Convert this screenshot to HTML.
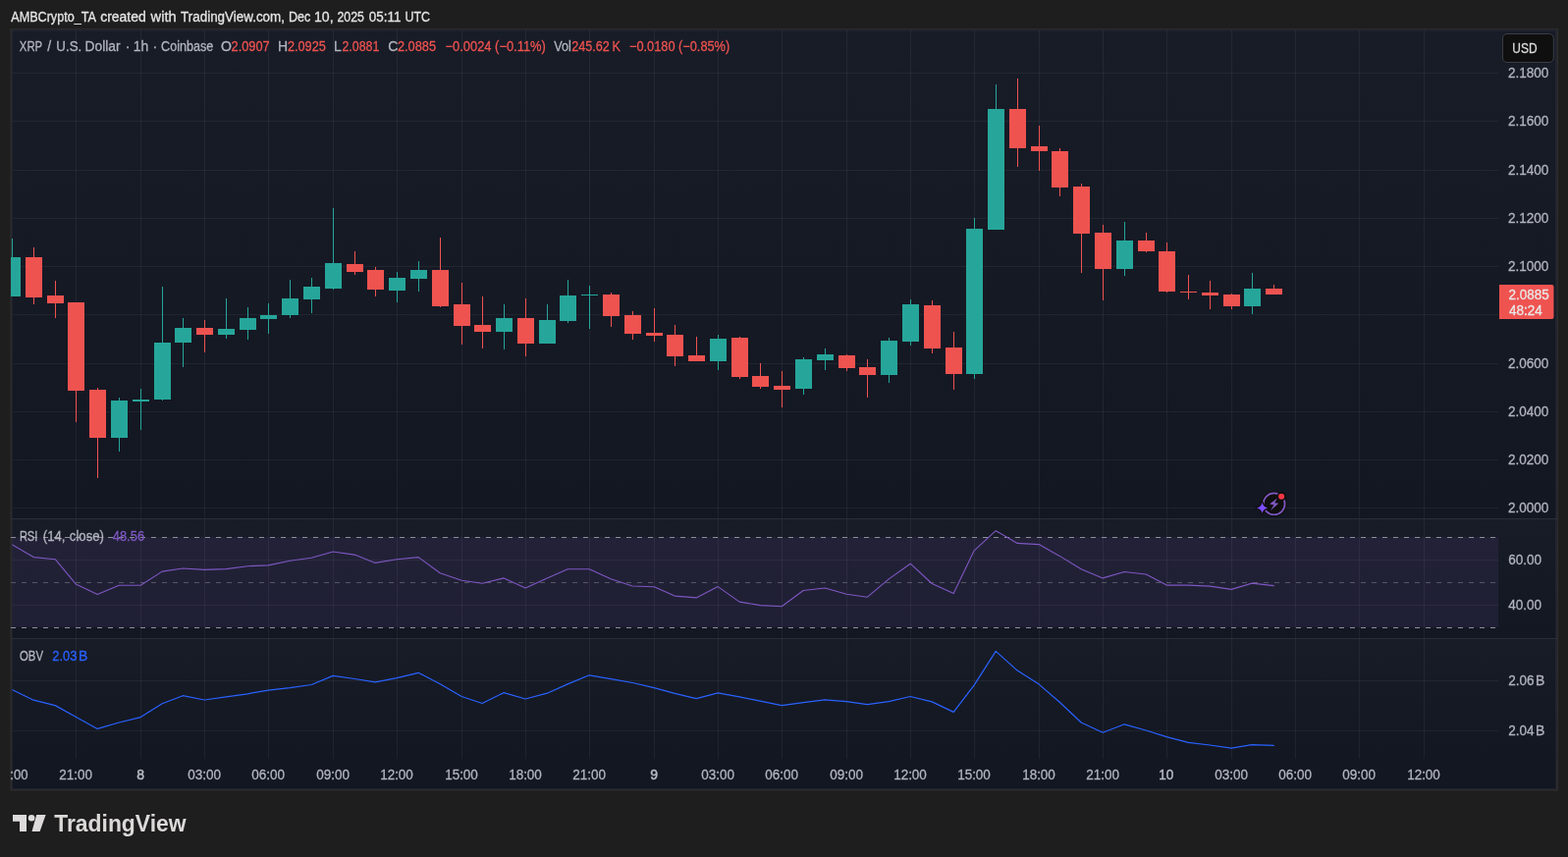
<!DOCTYPE html>
<html lang="en"><head><meta charset="utf-8"><title>XRP / U.S. Dollar · 1h · Coinbase — TradingView</title>
<style>
html,body{margin:0;padding:0;background:#1e1e1e;width:1597px;height:873px;overflow:hidden}
svg text{white-space:pre}
</style></head><body>
<svg width="1597" height="873" viewBox="0 0 1597 873" style="position:absolute;left:0;top:0;display:block">
<defs><linearGradient id="bg" x1="0" y1="0" x2="0" y2="1"><stop offset="0" stop-color="#181c27"/><stop offset="1" stop-color="#131722"/></linearGradient>
<clipPath id="pane"><rect x="12.5" y="31" width="1513.5" height="773"/></clipPath><clipPath id="cpane"><rect x="11" y="31" width="1515" height="773"/></clipPath></defs>
<rect width="1597" height="873" fill="#1e1e1e"/>
<rect x="10.4" y="29" width="1576.6" height="776.8" fill="#2b2b2d"/>
<rect x="12.2" y="30.6" width="1572.9" height="773.4" fill="#131722"/>
<rect x="12.2" y="30.6" width="1572.9" height="497.4" fill="url(#bg)"/>
<rect x="12.2" y="529" width="1572.9" height="121" fill="url(#bg)"/>
<rect x="12.2" y="651" width="1572.9" height="122" fill="url(#bg)"/>
<rect x="12.7" y="31.1" width="1571.9" height="772.4" fill="none" stroke="#f0f3fa" stroke-opacity="0.05" stroke-width="1"/>
<path d="M77 31h1v742h-1zM143 31h1v742h-1zM208 31h1v742h-1zM273 31h1v742h-1zM339 31h1v742h-1zM404 31h1v742h-1zM470 31h1v742h-1zM535 31h1v742h-1zM600 31h1v742h-1zM666 31h1v742h-1zM731 31h1v742h-1zM796 31h1v742h-1zM862 31h1v742h-1zM927 31h1v742h-1zM992 31h1v742h-1zM1058 31h1v742h-1zM1123 31h1v742h-1zM1188 31h1v742h-1zM1254 31h1v742h-1zM1319 31h1v742h-1zM1384 31h1v742h-1zM1450 31h1v742h-1z" fill="#f0f3fa" fill-opacity="0.06" shape-rendering="crispEdges"/>
<path d="M12.5 74h1513.5v1h-1513.5zM12.5 123h1513.5v1h-1513.5zM12.5 173h1513.5v1h-1513.5zM12.5 222h1513.5v1h-1513.5zM12.5 271h1513.5v1h-1513.5zM12.5 320h1513.5v1h-1513.5zM12.5 370h1513.5v1h-1513.5zM12.5 419h1513.5v1h-1513.5zM12.5 468h1513.5v1h-1513.5zM12.5 517h1513.5v1h-1513.5zM12.5 570h1513.5v1h-1513.5zM12.5 616h1513.5v1h-1513.5zM12.5 693h1513.5v1h-1513.5zM12.5 744h1513.5v1h-1513.5z" fill="#f0f3fa" fill-opacity="0.06" shape-rendering="crispEdges"/>
<path d="M11 528h1575v1h-1575zM11 650h1575v1h-1575z" fill="#2a2e39" shape-rendering="crispEdges"/>
<rect x="12.5" y="547" width="1513.5" height="92" fill="#7e57c2" fill-opacity="0.115"/>
<line x1="11" x2="1526" y1="547.5" y2="547.5" stroke="#8d909a" stroke-width="1" stroke-dasharray="5 6" shape-rendering="crispEdges" clip-path="url(#cpane)"/>
<line x1="11" x2="1526" y1="593.5" y2="593.5" stroke="#555864" stroke-width="1" stroke-dasharray="5 6" shape-rendering="crispEdges" clip-path="url(#cpane)"/>
<line x1="11" x2="1526" y1="639.5" y2="639.5" stroke="#8d909a" stroke-width="1" stroke-dasharray="5 6" shape-rendering="crispEdges" clip-path="url(#cpane)"/>
<path d="M12 243h1v59h-1zM4 262h17v40h-17zM121 405h1v55h-1zM113 408h17v38h-17zM143 396h1v42h-1zM135 407h17v2h-17zM165 292h1v116h-1zM157 349h17v58h-17zM186 324h1v50h-1zM178 334h17v15h-17zM230 304h1v41h-1zM222 335h17v6h-17zM252 313h1v33h-1zM244 324h17v12h-17zM273 309h1v31h-1zM265 321h17v4h-17zM295 285h1v39h-1zM287 304h17v17h-17zM317 283h1v36h-1zM309 292h17v13h-17zM339 212h1v83h-1zM331 268h17v26h-17zM404 277h1v31h-1zM396 283h17v13h-17zM426 266h1v31h-1zM418 275h17v9h-17zM513 310h1v46h-1zM505 324h17v14h-17zM557 310h1v40h-1zM549 326h17v24h-17zM578 285h1v44h-1zM570 301h17v26h-17zM600 291h1v44h-1zM592 300h17v1h-17zM731 341h1v36h-1zM723 345h17v23h-17zM818 364h1v38h-1zM810 366h17v30h-17zM840 355h1v22h-1zM832 361h17v6h-17zM905 344h1v46h-1zM897 347h17v35h-17zM927 305h1v47h-1zM919 310h17v38h-17zM992 222h1v164h-1zM984 233h17v148h-17zM1014 86h1v148h-1zM1006 111h17v123h-17zM1145 226h1v55h-1zM1137 245h17v29h-17zM1275 278h1v42h-1zM1267 294h17v18h-17z" fill="#26a69a" shape-rendering="crispEdges" clip-path="url(#cpane)"/>
<path d="M34 252h1v58h-1zM26 262h17v41h-17zM56 286h1v38h-1zM48 301h17v8h-17zM77 308h1v122h-1zM69 308h17v90h-17zM99 395h1v92h-1zM91 397h17v49h-17zM208 326h1v33h-1zM200 334h17v7h-17zM361 256h1v24h-1zM353 269h17v8h-17zM382 272h1v30h-1zM374 275h17v20h-17zM448 242h1v71h-1zM440 275h17v37h-17zM470 288h1v63h-1zM462 310h17v22h-17zM491 302h1v53h-1zM483 331h17v7h-17zM535 304h1v59h-1zM527 324h17v26h-17zM622 298h1v35h-1zM614 300h17v22h-17zM644 317h1v29h-1zM636 321h17v19h-17zM666 314h1v34h-1zM658 339h17v3h-17zM687 331h1v42h-1zM679 341h17v22h-17zM709 343h1v25h-1zM701 362h17v6h-17zM753 343h1v43h-1zM745 344h17v40h-17zM774 370h1v26h-1zM766 383h17v11h-17zM796 378h1v37h-1zM788 393h17v4h-17zM862 361h1v17h-1zM854 362h17v13h-17zM883 366h1v39h-1zM875 374h17v8h-17zM949 306h1v54h-1zM941 311h17v44h-17zM971 338h1v59h-1zM963 354h17v27h-17zM1036 80h1v90h-1zM1028 111h17v40h-17zM1058 128h1v46h-1zM1050 149h17v5h-17zM1079 151h1v49h-1zM1071 154h17v37h-17zM1101 187h1v91h-1zM1093 190h17v48h-17zM1123 229h1v77h-1zM1115 237h17v37h-17zM1167 237h1v20h-1zM1159 245h17v11h-17zM1188 247h1v51h-1zM1180 256h17v41h-17zM1210 280h1v25h-1zM1202 297h17v1h-17zM1232 286h1v29h-1zM1224 298h17v3h-17zM1254 299h1v16h-1zM1246 300h17v12h-17zM1297 290h1v10h-1zM1289 294h17v6h-17z" fill="#ef5350" shape-rendering="crispEdges" clip-path="url(#cpane)"/>
<polyline points="12.2,554.8 34.2,567.6 56.2,569.7 77.2,594.9 99.2,605.6 121.2,596.3 143.2,596.3 165.2,582.1 186.2,579.0 208.2,580.4 230.2,579.6 252.2,576.7 273.2,575.9 295.2,571.3 317.2,568.2 339.2,562.0 361.2,565.1 382.2,573.4 404.2,569.7 426.2,567.6 448.2,583.7 470.2,591.2 491.2,594.3 513.2,588.9 535.2,599.0 557.2,588.9 578.2,579.8 600.2,579.8 622.2,589.7 644.2,597.0 666.2,597.8 687.2,607.1 709.2,608.9 731.2,597.6 753.2,613.1 774.2,616.6 796.2,617.8 818.2,601.5 840.2,599.0 862.2,605.2 883.2,608.3 905.2,589.9 927.2,574.2 949.2,594.5 971.2,604.6 992.2,560.8 1014.2,540.7 1036.2,553.4 1058.2,554.6 1079.2,566.4 1101.2,579.8 1123.2,588.9 1145.2,582.5 1167.2,585.0 1188.2,596.1 1210.2,596.1 1232.2,597.1 1254.2,600.4 1275.2,594.1 1297.2,596.6" fill="none" stroke="#7e57c2" stroke-width="1.1" stroke-linejoin="round" stroke-linecap="round" clip-path="url(#pane)"/>
<polyline points="12.2,702.5 34.2,713.2 56.2,718.6 77.2,730.2 99.2,742.4 121.2,736.0 143.2,730.6 165.2,716.7 186.2,708.7 208.2,713.0 230.2,709.9 252.2,706.8 273.2,703.1 295.2,700.6 317.2,697.5 339.2,688.4 361.2,691.5 382.2,694.8 404.2,690.7 426.2,685.3 448.2,696.7 470.2,709.5 491.2,716.5 513.2,705.6 535.2,712.0 557.2,706.2 578.2,696.9 600.2,687.8 622.2,691.6 644.2,695.5 666.2,700.6 687.2,706.4 709.2,711.6 731.2,705.8 753.2,709.9 774.2,714.1 796.2,718.6 818.2,715.7 840.2,712.8 862.2,714.7 883.2,717.6 905.2,714.7 927.2,709.5 949.2,714.9 971.2,725.4 992.2,697.9 1014.2,663.4 1036.2,683.1 1058.2,697.1 1079.2,715.3 1101.2,736.0 1123.2,746.3 1145.2,737.8 1167.2,744.0 1188.2,750.6 1210.2,756.4 1232.2,759.0 1254.2,762.1 1275.2,758.6 1297.2,759.4" fill="none" stroke="#2962ff" stroke-width="1.2" stroke-linejoin="round" stroke-linecap="round" clip-path="url(#pane)"/>
<g font-family="'Liberation Sans', sans-serif">
<text x="11.30" y="22.0" font-size="14" fill="#e4e4e4" font-weight="normal" textLength="86.50" lengthAdjust="spacingAndGlyphs" stroke="#e4e4e4" stroke-width="0.3">AMBCrypto_TA</text>
<text x="102.20" y="22.0" font-size="14" fill="#e4e4e4" font-weight="normal" textLength="46.58" lengthAdjust="spacingAndGlyphs" stroke="#e4e4e4" stroke-width="0.3">created</text>
<text x="153.55" y="22.0" font-size="14" fill="#e4e4e4" font-weight="normal" textLength="26.08" lengthAdjust="spacingAndGlyphs" stroke="#e4e4e4" stroke-width="0.3">with</text>
<text x="184.10" y="22.0" font-size="14" fill="#e4e4e4" font-weight="normal" textLength="105.85" lengthAdjust="spacingAndGlyphs" stroke="#e4e4e4" stroke-width="0.3">TradingView.com,</text>
<text x="293.90" y="22.0" font-size="14" fill="#e4e4e4" font-weight="normal" textLength="22.30" lengthAdjust="spacingAndGlyphs" stroke="#e4e4e4" stroke-width="0.3">Dec</text>
<text x="319.99" y="22.0" font-size="14" fill="#e4e4e4" font-weight="normal" textLength="19.60" lengthAdjust="spacingAndGlyphs" stroke="#e4e4e4" stroke-width="0.3">10,</text>
<text x="343.50" y="22.0" font-size="14" fill="#e4e4e4" font-weight="normal" textLength="27.31" lengthAdjust="spacingAndGlyphs" stroke="#e4e4e4" stroke-width="0.3">2025</text>
<text x="375.80" y="22.0" font-size="14" fill="#e4e4e4" font-weight="normal" textLength="32.59" lengthAdjust="spacingAndGlyphs" stroke="#e4e4e4" stroke-width="0.3">05:11</text>
<text x="412.51" y="22.0" font-size="14" fill="#e4e4e4" font-weight="normal" textLength="25.48" lengthAdjust="spacingAndGlyphs" stroke="#e4e4e4" stroke-width="0.3">UTC</text>
<text x="19.80" y="52.0" font-size="14" fill="#b2b5be" font-weight="normal" textLength="23.37" lengthAdjust="spacingAndGlyphs" stroke="#b2b5be" stroke-width="0.28">XRP</text>
<text x="48.20" y="52.0" font-size="14" fill="#b2b5be" font-weight="normal" stroke="#b2b5be" stroke-width="0.28">/</text>
<text x="57.35" y="52.0" font-size="14" fill="#b2b5be" font-weight="normal" textLength="25.90" lengthAdjust="spacingAndGlyphs" stroke="#b2b5be" stroke-width="0.28">U.S.</text>
<text x="86.62" y="52.0" font-size="14" fill="#b2b5be" font-weight="normal" textLength="35.95" lengthAdjust="spacingAndGlyphs" stroke="#b2b5be" stroke-width="0.28">Dollar</text>
<text x="127.75" y="52.0" font-size="14" fill="#b2b5be" font-weight="normal" stroke="#b2b5be" stroke-width="0.28">·</text>
<text x="135.71" y="52.0" font-size="14" fill="#b2b5be" font-weight="normal" textLength="15.47" lengthAdjust="spacingAndGlyphs" stroke="#b2b5be" stroke-width="0.28">1h</text>
<text x="155.40" y="52.0" font-size="14" fill="#b2b5be" font-weight="normal" stroke="#b2b5be" stroke-width="0.28">·</text>
<text x="164.10" y="52.0" font-size="14" fill="#b2b5be" font-weight="normal" textLength="53.21" lengthAdjust="spacingAndGlyphs" stroke="#b2b5be" stroke-width="0.28">Coinbase</text>
<text x="224.95" y="52.0" font-size="14" fill="#b2b5be" font-weight="normal" stroke="#b2b5be" stroke-width="0.28">O</text>
<text x="235.50" y="52.0" font-size="14" fill="#ef5350" font-weight="normal" textLength="39.20" lengthAdjust="spacingAndGlyphs" stroke="#ef5350" stroke-width="0.28">2.0907</text>
<text x="282.95" y="52.0" font-size="14" fill="#b2b5be" font-weight="normal" stroke="#b2b5be" stroke-width="0.28">H</text>
<text x="292.90" y="52.0" font-size="14" fill="#ef5350" font-weight="normal" textLength="38.91" lengthAdjust="spacingAndGlyphs" stroke="#ef5350" stroke-width="0.28">2.0925</text>
<text x="340.00" y="52.0" font-size="14" fill="#b2b5be" font-weight="normal" stroke="#b2b5be" stroke-width="0.28">L</text>
<text x="348.50" y="52.0" font-size="14" fill="#ef5350" font-weight="normal" textLength="37.81" lengthAdjust="spacingAndGlyphs" stroke="#ef5350" stroke-width="0.28">2.0881</text>
<text x="395.15" y="52.0" font-size="14" fill="#b2b5be" font-weight="normal" stroke="#b2b5be" stroke-width="0.28">C</text>
<text x="404.90" y="52.0" font-size="14" fill="#ef5350" font-weight="normal" textLength="39.10" lengthAdjust="spacingAndGlyphs" stroke="#ef5350" stroke-width="0.28">2.0885</text>
<text x="453.60" y="52.0" font-size="14" fill="#ef5350" font-weight="normal" textLength="102.21" lengthAdjust="spacingAndGlyphs" stroke="#ef5350" stroke-width="0.28">−0.0024 (−0.11%)</text>
<text x="564.20" y="52.0" font-size="14" fill="#b2b5be" font-weight="normal" textLength="17.60" lengthAdjust="spacingAndGlyphs" stroke="#b2b5be" stroke-width="0.28">Vol</text>
<text x="582.30" y="52.0" font-size="14" fill="#ef5350" font-weight="normal" textLength="49.50" lengthAdjust="spacingAndGlyphs" stroke="#ef5350" stroke-width="0.28">245.62 K</text>
<text x="641.00" y="52.0" font-size="14" fill="#ef5350" font-weight="normal" textLength="102.20" lengthAdjust="spacingAndGlyphs" stroke="#ef5350" stroke-width="0.28">−0.0180 (−0.85%)</text>
<text x="19.91" y="551.0" font-size="14" fill="#b2b5be" font-weight="normal" textLength="18.39" lengthAdjust="spacingAndGlyphs" stroke="#b2b5be" stroke-width="0.28">RSI</text>
<text x="43.80" y="551.0" font-size="14" fill="#b2b5be" font-weight="normal" textLength="22.74" lengthAdjust="spacingAndGlyphs" stroke="#b2b5be" stroke-width="0.28">(14,</text>
<text x="70.80" y="551.0" font-size="14" fill="#b2b5be" font-weight="normal" textLength="35.22" lengthAdjust="spacingAndGlyphs" stroke="#b2b5be" stroke-width="0.28">close)</text>
<text x="114.70" y="551.0" font-size="14" fill="#7e57c2" font-weight="normal" textLength="32.40" lengthAdjust="spacingAndGlyphs" stroke="#7e57c2" stroke-width="0.28">48.56</text>
<text x="20.00" y="673.0" font-size="14" fill="#b2b5be" font-weight="normal" textLength="23.96" lengthAdjust="spacingAndGlyphs" stroke="#b2b5be" stroke-width="0.28">OBV</text>
<text x="53.30" y="673.0" font-size="14" fill="#2962ff" font-weight="normal" textLength="25.10" lengthAdjust="spacingAndGlyphs" stroke="#2962ff" stroke-width="0.28">2.03</text>
<text x="80.00" y="673.0" font-size="14" fill="#2962ff" font-weight="normal" stroke="#2962ff" stroke-width="0.28">B</text>
<text x="1536.00" y="79.0" font-size="14" fill="#b2b5be" font-weight="normal" textLength="41.39" lengthAdjust="spacingAndGlyphs" stroke="#b2b5be" stroke-width="0.28">2.1800</text>
<text x="1536.00" y="128.0" font-size="14" fill="#b2b5be" font-weight="normal" textLength="41.39" lengthAdjust="spacingAndGlyphs" stroke="#b2b5be" stroke-width="0.28">2.1600</text>
<text x="1536.00" y="178.0" font-size="14" fill="#b2b5be" font-weight="normal" textLength="41.39" lengthAdjust="spacingAndGlyphs" stroke="#b2b5be" stroke-width="0.28">2.1400</text>
<text x="1536.00" y="227.0" font-size="14" fill="#b2b5be" font-weight="normal" textLength="41.39" lengthAdjust="spacingAndGlyphs" stroke="#b2b5be" stroke-width="0.28">2.1200</text>
<text x="1536.00" y="276.0" font-size="14" fill="#b2b5be" font-weight="normal" textLength="41.39" lengthAdjust="spacingAndGlyphs" stroke="#b2b5be" stroke-width="0.28">2.1000</text>
<text x="1536.00" y="375.0" font-size="14" fill="#b2b5be" font-weight="normal" textLength="41.39" lengthAdjust="spacingAndGlyphs" stroke="#b2b5be" stroke-width="0.28">2.0600</text>
<text x="1536.00" y="424.0" font-size="14" fill="#b2b5be" font-weight="normal" textLength="41.39" lengthAdjust="spacingAndGlyphs" stroke="#b2b5be" stroke-width="0.28">2.0400</text>
<text x="1536.00" y="473.0" font-size="14" fill="#b2b5be" font-weight="normal" textLength="41.39" lengthAdjust="spacingAndGlyphs" stroke="#b2b5be" stroke-width="0.28">2.0200</text>
<text x="1536.00" y="522.0" font-size="14" fill="#b2b5be" font-weight="normal" textLength="41.39" lengthAdjust="spacingAndGlyphs" stroke="#b2b5be" stroke-width="0.28">2.0000</text>
<text x="1536.20" y="575.0" font-size="14" fill="#b2b5be" font-weight="normal" textLength="33.89" lengthAdjust="spacingAndGlyphs" stroke="#b2b5be" stroke-width="0.28">60.00</text>
<text x="1536.20" y="621.0" font-size="14" fill="#b2b5be" font-weight="normal" textLength="33.89" lengthAdjust="spacingAndGlyphs" stroke="#b2b5be" stroke-width="0.28">40.00</text>
<text x="1536.20" y="698.0" font-size="14" fill="#b2b5be" font-weight="normal" textLength="26.29" lengthAdjust="spacingAndGlyphs" stroke="#b2b5be" stroke-width="0.28">2.06</text>
<text x="1563.90" y="698.0" font-size="14" fill="#b2b5be" font-weight="normal" stroke="#b2b5be" stroke-width="0.28">B</text>
<text x="1536.20" y="749.0" font-size="14" fill="#b2b5be" font-weight="normal" textLength="26.29" lengthAdjust="spacingAndGlyphs" stroke="#b2b5be" stroke-width="0.28">2.04</text>
<text x="1563.90" y="749.0" font-size="14" fill="#b2b5be" font-weight="normal" stroke="#b2b5be" stroke-width="0.28">B</text>
<rect x="1530.5" y="34.5" width="51.8" height="29" rx="4.5" fill="#0f0f0f" stroke="#3a3c45" stroke-width="1"/>
<text x="1540.35" y="54.0" font-size="14" fill="#dbdbdb" font-weight="normal" textLength="25.25" lengthAdjust="spacingAndGlyphs" stroke="#dbdbdb" stroke-width="0.28">USD</text>
<path d="M1527 290h53.5a2 2 0 0 1 2 2v31a2 2 0 0 1 -2 2h-53.5z" fill="#ef5350"/>
<text x="1536.60" y="305.0" font-size="14" fill="#e8e8e8" font-weight="normal" textLength="41.09" lengthAdjust="spacingAndGlyphs" stroke="#e8e8e8" stroke-width="0.28">2.0885</text>
<text x="1536.90" y="321.0" font-size="14" fill="#e8e8e8" font-weight="normal" textLength="33.89" lengthAdjust="spacingAndGlyphs" stroke="#e8e8e8" stroke-width="0.28">48:24</text>
<g clip-path="url(#cpane)">
<text x="10.36" y="794.0" font-size="14" fill="#b2b5be" font-weight="normal" textLength="18.24" lengthAdjust="spacingAndGlyphs" stroke="#b2b5be" stroke-width="0.28">:00</text>
<text x="60.30" y="794.0" font-size="14" fill="#b2b5be" font-weight="normal" textLength="33.79" lengthAdjust="spacingAndGlyphs" stroke="#b2b5be" stroke-width="0.28">21:00</text>
<text x="139.30" y="794.0" font-size="14" fill="#b8bbc4" font-weight="normal" stroke="#b8bbc4" stroke-width="0.45">8</text>
<text x="191.30" y="794.0" font-size="14" fill="#b2b5be" font-weight="normal" textLength="33.79" lengthAdjust="spacingAndGlyphs" stroke="#b2b5be" stroke-width="0.28">03:00</text>
<text x="256.30" y="794.0" font-size="14" fill="#b2b5be" font-weight="normal" textLength="33.79" lengthAdjust="spacingAndGlyphs" stroke="#b2b5be" stroke-width="0.28">06:00</text>
<text x="322.30" y="794.0" font-size="14" fill="#b2b5be" font-weight="normal" textLength="33.79" lengthAdjust="spacingAndGlyphs" stroke="#b2b5be" stroke-width="0.28">09:00</text>
<text x="387.14" y="794.0" font-size="14" fill="#b2b5be" font-weight="normal" textLength="33.76" lengthAdjust="spacingAndGlyphs" stroke="#b2b5be" stroke-width="0.28">12:00</text>
<text x="453.14" y="794.0" font-size="14" fill="#b2b5be" font-weight="normal" textLength="33.76" lengthAdjust="spacingAndGlyphs" stroke="#b2b5be" stroke-width="0.28">15:00</text>
<text x="518.14" y="794.0" font-size="14" fill="#b2b5be" font-weight="normal" textLength="33.76" lengthAdjust="spacingAndGlyphs" stroke="#b2b5be" stroke-width="0.28">18:00</text>
<text x="583.30" y="794.0" font-size="14" fill="#b2b5be" font-weight="normal" textLength="33.79" lengthAdjust="spacingAndGlyphs" stroke="#b2b5be" stroke-width="0.28">21:00</text>
<text x="662.30" y="794.0" font-size="14" fill="#b8bbc4" font-weight="normal" stroke="#b8bbc4" stroke-width="0.45">9</text>
<text x="714.30" y="794.0" font-size="14" fill="#b2b5be" font-weight="normal" textLength="33.79" lengthAdjust="spacingAndGlyphs" stroke="#b2b5be" stroke-width="0.28">03:00</text>
<text x="779.30" y="794.0" font-size="14" fill="#b2b5be" font-weight="normal" textLength="33.79" lengthAdjust="spacingAndGlyphs" stroke="#b2b5be" stroke-width="0.28">06:00</text>
<text x="845.30" y="794.0" font-size="14" fill="#b2b5be" font-weight="normal" textLength="33.79" lengthAdjust="spacingAndGlyphs" stroke="#b2b5be" stroke-width="0.28">09:00</text>
<text x="910.14" y="794.0" font-size="14" fill="#b2b5be" font-weight="normal" textLength="33.76" lengthAdjust="spacingAndGlyphs" stroke="#b2b5be" stroke-width="0.28">12:00</text>
<text x="975.14" y="794.0" font-size="14" fill="#b2b5be" font-weight="normal" textLength="33.76" lengthAdjust="spacingAndGlyphs" stroke="#b2b5be" stroke-width="0.28">15:00</text>
<text x="1041.14" y="794.0" font-size="14" fill="#b2b5be" font-weight="normal" textLength="33.76" lengthAdjust="spacingAndGlyphs" stroke="#b2b5be" stroke-width="0.28">18:00</text>
<text x="1106.30" y="794.0" font-size="14" fill="#b2b5be" font-weight="normal" textLength="33.79" lengthAdjust="spacingAndGlyphs" stroke="#b2b5be" stroke-width="0.28">21:00</text>
<text x="1180.24" y="794.0" font-size="14" fill="#b8bbc4" font-weight="normal" textLength="14.95" lengthAdjust="spacingAndGlyphs" stroke="#b8bbc4" stroke-width="0.45">10</text>
<text x="1237.30" y="794.0" font-size="14" fill="#b2b5be" font-weight="normal" textLength="33.79" lengthAdjust="spacingAndGlyphs" stroke="#b2b5be" stroke-width="0.28">03:00</text>
<text x="1302.30" y="794.0" font-size="14" fill="#b2b5be" font-weight="normal" textLength="33.79" lengthAdjust="spacingAndGlyphs" stroke="#b2b5be" stroke-width="0.28">06:00</text>
<text x="1367.30" y="794.0" font-size="14" fill="#b2b5be" font-weight="normal" textLength="33.79" lengthAdjust="spacingAndGlyphs" stroke="#b2b5be" stroke-width="0.28">09:00</text>
<text x="1433.14" y="794.0" font-size="14" fill="#b2b5be" font-weight="normal" textLength="33.76" lengthAdjust="spacingAndGlyphs" stroke="#b2b5be" stroke-width="0.28">12:00</text>
</g>
<text x="55.20" y="847.0" font-size="23.4" fill="#dcd9d9" font-weight="bold" textLength="134.41" lengthAdjust="spacingAndGlyphs">TradingView</text>
</g>
<path d="M13 830h14v17h-7v-10.3h-7z M37.2 830h9.4l-6 17h-8.1z" fill="#dcdada"/><circle cx="32.1" cy="833.3" r="3.3" fill="#dcdada"/>
<g>
<circle cx="1297.65" cy="513.3" r="12.9" fill="#0f0f0f"/>
<circle cx="1297.65" cy="513.3" r="10.95" fill="#0f0f0f" stroke="#7e57c2" stroke-width="1.7"/>
<path d="M1300.9 507.5L1293 513.6l4.4.55-3.3 5.75 8.2-7.1-4-.5z" fill="#7e57c2"/>
<circle cx="1305.15" cy="505.7" r="4.7" fill="#0f0f0f"/><circle cx="1305.15" cy="505.7" r="3.05" fill="#f23645"/>
<path d="M1285.55 511.7Q1286.45 516.5 1291.25 517.4Q1286.45 518.3 1285.55 523.1Q1284.6499999999999 518.3 1279.85 517.4Q1284.6499999999999 516.5 1285.55 511.7z" fill="#7c4dff" stroke="#0f0f0f" stroke-width="2.6" paint-order="stroke" stroke-linejoin="round"/>
</g>
</svg>
</body></html>
